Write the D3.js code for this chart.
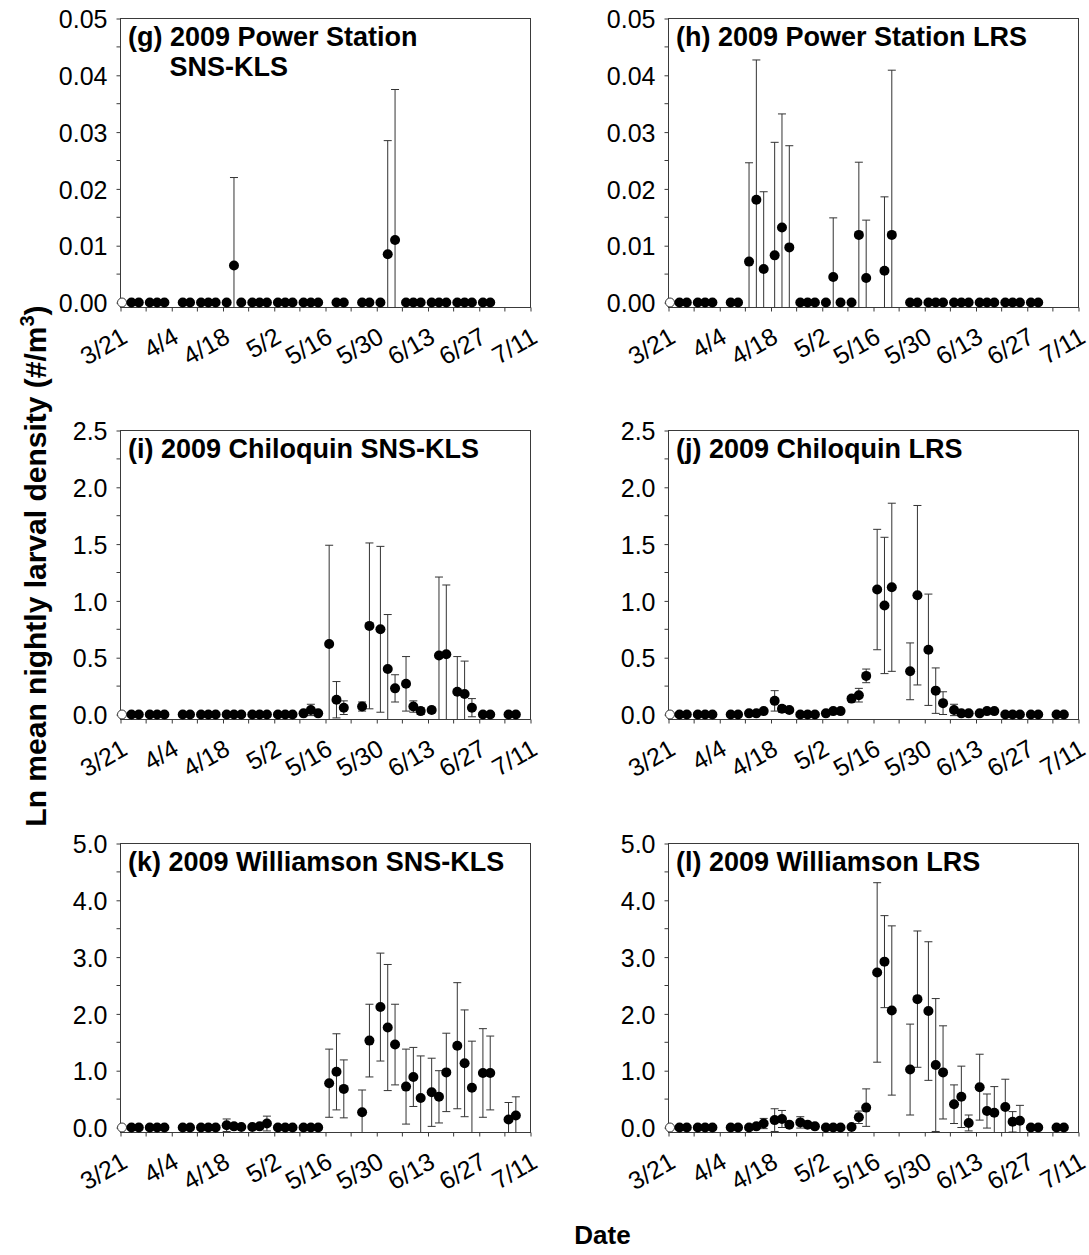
<!DOCTYPE html>
<html>
<head>
<meta charset="utf-8">
<script src="https://cdnjs.cloudflare.com/ajax/libs/d3/7.8.5/d3.min.js"></script>
<style>
  body { margin: 0; background: #fff; }
  svg { display: block; font-family: "Liberation Sans", Arial, sans-serif; }
</style>
</head>
<body>
<svg id="chart" width="1089" height="1255"></svg>
<script>
// ---- Sampling nights (2009) ----
const powerStationDates = ["3/24","3/26","3/29","3/31","4/2","4/7","4/9","4/12","4/14","4/16",
  "4/19","4/21","4/23","4/26","4/28","4/30","5/3","5/5","5/7","5/10",
  "5/12","5/14","5/19","5/21","5/26","5/28","5/31","6/2","6/4","6/7",
  "6/9","6/11","6/14","6/16","6/18","6/21","6/23","6/25","6/28","6/30"];
const riverDates = ["3/24","3/26","3/29","3/31","4/2","4/7","4/9","4/12","4/14","4/16",
  "4/19","4/21","4/23","4/26","4/28","4/30","5/3","5/5","5/7","5/10",
  "5/12","5/14","5/17","5/19","5/21","5/26","5/28","5/31","6/2","6/4",
  "6/7","6/9","6/11","6/14","6/16","6/18","6/21","6/23","6/25","6/28",
  "6/30","7/5","7/7"];
const openMarkerDate = "3/21";

// ---- Axis ticks ----
const xTickLabels = ["3/21","4/4","4/18","5/2","5/16","5/30","6/13","6/27","7/11"];
const yTicksPower = [0, 0.01, 0.02, 0.03, 0.04, 0.05];
const yTickLabelsPower = ["0.00","0.01","0.02","0.03","0.04","0.05"];
const yTicksChiloquin = [0, 0.5, 1.0, 1.5, 2.0, 2.5];
const yTickLabelsChiloquin = ["0.0","0.5","1.0","1.5","2.0","2.5"];
const yTicksWilliamson = [0, 1, 2, 3, 4, 5];
const yTickLabelsWilliamson = ["0.0","1.0","2.0","3.0","4.0","5.0"];

// ---- (g) Power Station SNS-KLS ----
const gMean = [0,0,0,0,0, 0,0,0,0,0, 0,0.0065,0,0,0, 0,0,0,0,0,
               0,0,0,0,0, 0,0,0.0085,0.011,0, 0,0,0,0,0, 0,0,0,0,0];
const gSE   = [0,0,0,0,0, 0,0,0,0,0, 0,0.0155,0,0,0, 0,0,0,0,0,
               0,0,0,0,0, 0,0,0.0200,0.0265,0, 0,0,0,0,0, 0,0,0,0,0];

// ---- (h) Power Station LRS ----
const hMean = [0,0,0,0,0, 0,0,0.0072,0.0181,0.0059, 0.0083,0.0132,0.0097,0,0, 0,0,0.0045,0,0,
               0.0119,0.0043,0.0056,0.0119,0, 0,0,0,0,0, 0,0,0,0,0, 0,0,0,0,0];
const hSE   = [0,0,0,0,0, 0,0,0.0174,0.0246,0.0136, 0.0199,0.0200,0.0179,0,0, 0,0,0.0104,0,0,
               0.0128,0.0102,0.0130,0.0290,0, 0,0,0,0,0, 0,0,0,0,0, 0,0,0,0,0];

// ---- (i) Chiloquin SNS-KLS ----
const iMean = [0,0,0,0,0, 0,0,0,0,0, 0,0,0,0,0, 0,0,0,0,0.01,
               0.04,0.01,0.62,0.13,0.06, 0.07,0.78,0.75,0.40,0.23, 0.27,0.07,0.03,0.04,0.52,
               0.53,0.20,0.18,0.06,0, 0,0,0];
const iSE   = [0,0,0,0,0, 0,0,0,0,0, 0,0,0,0,0, 0,0,0,0,0,
               0.05,0,0.87,0.16,0.06, 0.04,0.73,0.73,0.48,0.12, 0.24,0.05,0.03,0.025,0.69,
               0.61,0.31,0.29,0.08,0, 0,0,0];

// ---- (j) Chiloquin LRS ----
const jMean = [0,0,0,0,0, 0,0,0.01,0.01,0.03, 0.12,0.05,0.04,0,0, 0,0.01,0.03,0.03,0.14,
               0.17,0.34,1.10,0.96,1.12, 0.38,1.05,0.57,0.21,0.10, 0.04,0.01,0.01,0.01,0.03,
               0.03,0,0,0,0, 0,0,0];
const jSE   = [0,0,0,0,0, 0,0,0,0,0, 0.09,0.03,0.02,0,0, 0,0,0,0,0.02,
               0.06,0.06,0.53,0.60,0.74, 0.25,0.79,0.49,0.20,0.10, 0.05,0,0,0,0,
               0,0,0,0,0, 0,0,0];

// ---- (k) Williamson SNS-KLS ----
const kMean = [0,0,0,0,0, 0,0,0,0,0, 0.04,0.02,0.01,0.01,0.02, 0.07,0,0,0,0,
               0,0,0.78,0.98,0.68, 0.27,1.53,2.12,1.76,1.46, 0.72,0.89,0.52,0.62,0.54,
               0.97,1.44,1.13,0.70,0.96, 0.96,0.14,0.21];
const kSE   = [0,0,0,0,0, 0,0,0,0,0, 0.11,0,0,0,0, 0.13,0,0,0,0,
               0,0,0.60,0.67,0.51, 0.39,0.64,0.95,1.11,0.71, 0.66,0.52,0.74,0.60,0.46,
               0.69,1.11,0.94,0.82,0.78, 0.65,0.30,0.33];

// ---- (l) Williamson LRS ----
const lMean = [0,0,0,0,0, 0,0,0,0.02,0.07, 0.13,0.15,0.05,0.09,0.05, 0.02,0,0,0,0.01,
               0.18,0.35,2.73,2.92,2.06, 1.02,2.26,2.05,1.10,0.97, 0.41,0.54,0.08,0.71,0.29,
               0.26,0.36,0.10,0.12,0, 0,0,0];
const lSE   = [0,0,0,0,0, 0,0,0,0,0.09, 0.20,0.15,0,0.10,0, 0,0,0,0,0,
               0.11,0.33,1.58,0.81,1.49, 0.80,1.20,1.22,1.17,0.82, 0.34,0.54,0.14,0.58,0.30,
               0.46,0.49,0.18,0.27,0, 0,0,0];

// ---- Layout ----
const colX = [120.5, 668.5];
const rowTop = [18.5, 430.5, 843.5];
const plotW = 410;
const plotH = 289;      // frame height
const zeroOffset = 284; // distance from frame top to y = 0
const axisColor = "#3a3a3a";
const tickLen = 4;

const parseDay = s => { const [m, d] = s.split("/").map(Number); return new Date(Date.UTC(2009, m - 1, d)); };

const panels = [
  { key: "g", col: 0, row: 0, title: ["(g) 2009 Power Station", "SNS-KLS"], dates: powerStationDates,
    mean: gMean, se: gSE, yTicks: yTicksPower, yLabels: yTickLabelsPower },
  { key: "h", col: 1, row: 0, title: ["(h) 2009 Power Station LRS"], dates: powerStationDates,
    mean: hMean, se: hSE, yTicks: yTicksPower, yLabels: yTickLabelsPower },
  { key: "i", col: 0, row: 1, title: ["(i) 2009 Chiloquin SNS-KLS"], dates: riverDates,
    mean: iMean, se: iSE, yTicks: yTicksChiloquin, yLabels: yTickLabelsChiloquin },
  { key: "j", col: 1, row: 1, title: ["(j) 2009 Chiloquin LRS"], dates: riverDates,
    mean: jMean, se: jSE, yTicks: yTicksChiloquin, yLabels: yTickLabelsChiloquin },
  { key: "k", col: 0, row: 2, title: ["(k) 2009 Williamson SNS-KLS"], dates: riverDates,
    mean: kMean, se: kSE, yTicks: yTicksWilliamson, yLabels: yTickLabelsWilliamson },
  { key: "l", col: 1, row: 2, title: ["(l) 2009 Williamson LRS"], dates: riverDates,
    mean: lMean, se: lSE, yTicks: yTicksWilliamson, yLabels: yTickLabelsWilliamson }
];

const svg = d3.select("#chart");

const xTickDates = xTickLabels.map(parseDay);
const xMinorDates = xTickDates.slice(0, -1).map(d => d3.utcDay.offset(d, 7));
const x = d3.scaleUtc()
  .domain([xTickDates[0], xTickDates[xTickDates.length - 1]])
  .range([0, plotW]);

function drawPanel(p) {
  const yMax = p.yTicks[p.yTicks.length - 1];
  const yMin = -yMax * (plotH - zeroOffset) / zeroOffset;
  const y = d3.scaleLinear().domain([yMin, yMax]).range([plotH, 0]);
  const yMinor = p.yTicks.slice(0, -1).map((t, i) => (t + p.yTicks[i + 1]) / 2);

  const g = svg.append("g").attr("transform", `translate(${colX[p.col]},${rowTop[p.row]})`);

  g.append("clipPath").attr("id", "clip-" + p.key)
    .append("rect").attr("width", plotW).attr("height", plotH);

  // frame
  g.append("rect").attr("width", plotW).attr("height", plotH)
    .attr("fill", "none").attr("stroke", axisColor).attr("stroke-width", 1);

  // y axis
  const yAxis = g.append("g")
    .call(d3.axisLeft(y).tickValues(p.yTicks).tickFormat((d, i) => p.yLabels[i]).tickSize(tickLen))
    .attr("font-size", null).attr("font-family", null);
  yAxis.select(".domain").remove();
  yAxis.selectAll(".tick line").attr("stroke", axisColor);
  yAxis.selectAll(".tick text")
    .attr("fill", "#000").style("font-size", "25px")
    .attr("x", -13).attr("dy", "0.37em");
  g.append("g").selectAll("line").data(yMinor).join("line")
    .attr("x1", -tickLen).attr("x2", 0)
    .attr("y1", d => y(d)).attr("y2", d => y(d))
    .attr("stroke", axisColor);

  // x axis
  const xAxis = g.append("g").attr("transform", `translate(0,${plotH})`)
    .call(d3.axisBottom(x).tickValues(xTickDates).tickFormat((d, i) => xTickLabels[i]).tickSize(tickLen))
    .attr("font-size", null).attr("font-family", null);
  xAxis.select(".domain").remove();
  xAxis.selectAll(".tick line").attr("stroke", axisColor);
  xAxis.selectAll(".tick text")
    .attr("fill", "#000").style("font-size", "25px")
    .attr("x", 0).attr("y", 0).attr("dy", null)
    .attr("text-anchor", "end")
    .attr("transform", "translate(8,34) rotate(-30)");
  xAxis.append("g").selectAll("line").data(xMinorDates).join("line")
    .attr("x1", d => x(d)).attr("x2", d => x(d))
    .attr("y1", 0).attr("y2", tickLen)
    .attr("stroke", axisColor);

  // panel title
  p.title.forEach((line, i) => {
    g.append("text")
      .attr("x", i === 0 ? 7.5 : 49).attr("y", 27 + i * 30)
      .attr("font-weight", "bold").style("font-size", "27px").attr("fill", "#000")
      .text(line);
  });

  const pts = p.dates.map((d, i) => ({ date: parseDay(d), mean: p.mean[i], se: p.se[i] }));
  const withErr = pts.filter(d => d.se > 0);

  // error bars (clipped to the frame)
  const eb = g.append("g").attr("clip-path", `url(#clip-${p.key})`)
    .attr("stroke", "#333").attr("stroke-width", 1).attr("fill", "none");
  eb.selectAll("line.stem").data(withErr).join("line").attr("class", "stem")
    .attr("x1", d => x(d.date)).attr("x2", d => x(d.date))
    .attr("y1", d => y(d.mean + d.se)).attr("y2", d => y(d.mean - d.se));
  eb.selectAll("line.capHi").data(withErr).join("line").attr("class", "capHi")
    .attr("x1", d => x(d.date) - 4).attr("x2", d => x(d.date) + 4)
    .attr("y1", d => y(d.mean + d.se)).attr("y2", d => y(d.mean + d.se));
  eb.selectAll("line.capLo").data(withErr).join("line").attr("class", "capLo")
    .attr("x1", d => x(d.date) - 4).attr("x2", d => x(d.date) + 4)
    .attr("y1", d => y(d.mean - d.se)).attr("y2", d => y(d.mean - d.se));

  // open marker at the start of the season
  g.append("circle")
    .attr("cx", x(parseDay(openMarkerDate)) + 1.5).attr("cy", y(0)).attr("r", 4.5)
    .attr("fill", "#fff").attr("stroke", "#333").attr("stroke-width", 1);

  // nightly means
  g.append("g").selectAll("circle").data(pts).join("circle")
    .attr("cx", d => x(d.date)).attr("cy", d => y(d.mean)).attr("r", 5)
    .attr("fill", "#000");
}

panels.forEach(drawPanel);

// shared axis titles
const yTitle = svg.append("text")
  .attr("transform", "translate(46,566) rotate(-90)")
  .attr("text-anchor", "middle").attr("font-weight", "bold").style("font-size", "30px").attr("fill", "#000");
yTitle.append("tspan").text("Ln mean nightly larval density (#/m");
yTitle.append("tspan").attr("dy", -12).style("font-size", "20px").text("3");
yTitle.append("tspan").attr("dy", 12).text(")");

svg.append("text")
  .attr("x", 602.5).attr("y", 1244)
  .attr("text-anchor", "middle").attr("font-weight", "bold").style("font-size", "26px").attr("fill", "#000")
  .text("Date");
</script>
</body>
</html>
